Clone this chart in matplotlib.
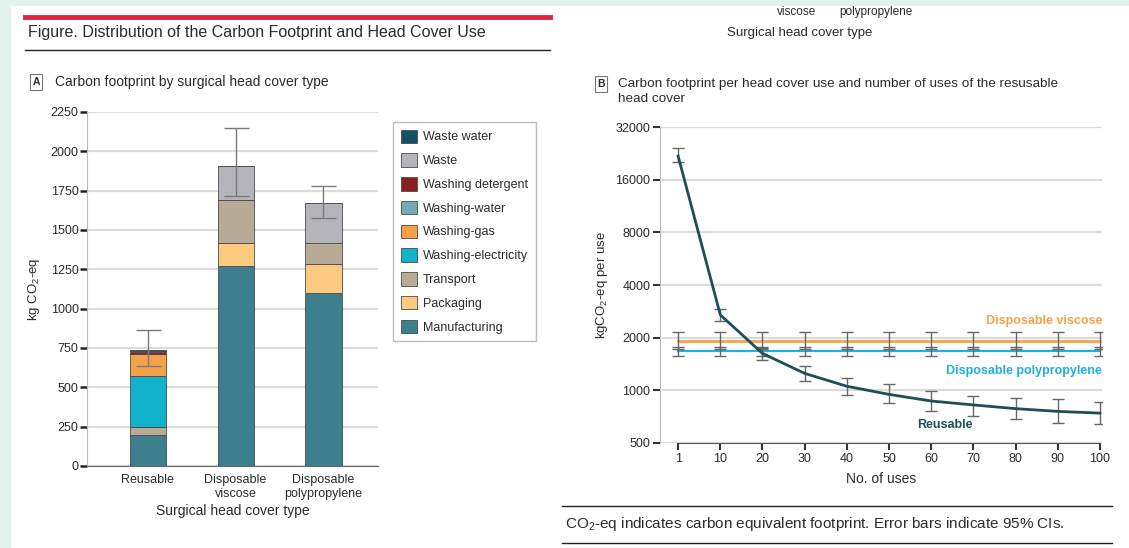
import matplotlib.pyplot as plt
import numpy as np
from matplotlib.patches import Rectangle, Patch
from matplotlib.lines import Line2D

plt.rcParams['font.family'] = ['Liberation Sans Narrow', 'Liberation Sans', 'DejaVu Sans']
plt.rcParams['mathtext.default'] = 'regular'

# ---- data, panel A (kg CO2-eq, stacked) ----
cover_types = ['Reusable', 'Disposable\nviscose', 'Disposable\npolypropylene']
components = ['Manufacturing', 'Packaging', 'Transport', 'Washing-electricity',
              'Washing-gas', 'Washing-water', 'Washing detergent', 'Waste', 'Waste water']
manufacturing = [194, 1273, 1098]
packaging = [0, 147, 186]
transport = [53, 271, 136]
washing_electricity = [327, 0, 0]
washing_gas = [138, 0, 0]
washing_water = [3, 0, 0]
washing_detergent = [8, 0, 0]
waste = [5, 216, 250]
waste_water = [8, 0, 0]
total_mean = [735, 1907, 1670]
total_lo = [636, 1718, 1579]
total_hi = [865, 2151, 1780]

# ---- data, panel B (per use, log scale) ----
uses = [1, 10, 20, 30, 40, 50, 60, 70, 80, 90, 100]
reusable = [21800, 2700, 1625, 1250, 1055, 948, 869, 825, 786, 758, 741]
reusable_lo = [20300, 2480, 1500, 1130, 940, 842, 758, 718, 683, 654, 641]
reusable_hi = [24400, 2906, 1750, 1386, 1183, 1080, 995, 933, 906, 888, 860]
viscose = [1907, 1907, 1907, 1907, 1907, 1907, 1907, 1907, 1907, 1907, 1907]
viscose_lo = [1718, 1718, 1718, 1718, 1718, 1718, 1718, 1718, 1718, 1718, 1718]
viscose_hi = [2151, 2151, 2151, 2151, 2151, 2151, 2151, 2151, 2151, 2151, 2151]
polyprop = [1670, 1670, 1670, 1670, 1670, 1670, 1670, 1670, 1670, 1670, 1670]
polyprop_lo = [1579, 1579, 1579, 1579, 1579, 1579, 1579, 1579, 1579, 1579, 1579]
polyprop_hi = [1780, 1780, 1780, 1780, 1780, 1780, 1780, 1780, 1780, 1780, 1780]
yticks_b = [500, 1000, 2000, 4000, 8000, 16000, 32000]

colors = {
    'Waste water': '#0f5364',
    'Waste': '#b4b4ba',
    'Washing detergent': '#8c1f24',
    'Washing-water': '#72a9b9',
    'Washing-gas': '#f5a14c',
    'Washing-electricity': '#12b1cc',
    'Transport': '#b8ab96',
    'Packaging': '#fdca80',
    'Manufacturing': '#3e7f8e',
}
stack = [manufacturing, packaging, transport, washing_electricity, washing_gas,
         washing_water, washing_detergent, waste, waste_water]

W, H = 1129, 548
def fx(x): return x / W
def fy(y): return 1 - y / H

fig = plt.figure(figsize=(W / 100, H / 100), dpi=100)
fig.patch.set_facecolor('#e4f2ee')
fig.patches.append(Rectangle((fx(11), 0), 1 - fx(11), fy(6), transform=fig.transFigure,
                             facecolor='white', edgecolor='none', zorder=-5))

txt = '#2b2b2b'

# header
fig.add_artist(Line2D([fx(25), fx(550)], [fy(17), fy(17)], color='#e2233d', lw=3.5))
fig.text(fx(28), fy(33), 'Figure. Distribution of the Carbon Footprint and Head Cover Use',
         fontsize=11.5, color=txt, va='center')
fig.add_artist(Line2D([fx(25), fx(550)], [fy(50), fy(50)], color='#222', lw=1))

# ---- panel A ----
fig.text(fx(36), fy(82), 'A', fontsize=7.5, fontweight='bold', color=txt, va='center', ha='center',
         bbox=dict(boxstyle='square,pad=0.25', fc='white', ec='#777', lw=0.8))
fig.text(fx(55), fy(82), 'Carbon footprint by surgical head cover type', fontsize=10,
         color=txt, va='center')

axA = fig.add_axes([fx(87), fy(466), fx(378) - fx(87), fy(112) - fy(466)])
xpos = np.arange(len(cover_types))
bottom = np.zeros(len(cover_types))
for name, vals in zip(components, stack):
    axA.bar(xpos, vals, 0.41, bottom=bottom, color=colors[name], edgecolor='#4a4a4a',
            linewidth=0.6, zorder=3)
    bottom += np.array(vals)
mean = np.array(total_mean)
axA.errorbar(xpos, mean, yerr=[mean - np.array(total_lo), np.array(total_hi) - mean],
             fmt='none', ecolor='#7a7a7a', elinewidth=1, capsize=9, capthick=1, zorder=4)
axA.set_xlim(-0.69, 2.62)
axA.set_ylim(0, 2250)
axA.set_yticks(np.arange(0, 2251, 250))
axA.set_xticks(xpos)
axA.set_xticklabels(cover_types, fontsize=9, color=txt, linespacing=1.2)
axA.tick_params(axis='x', length=0, pad=6)
axA.tick_params(axis='y', length=5, width=1.8, color='#222', labelsize=9, labelcolor=txt, pad=1)
axA.grid(axis='y', color='#dcdcdc', lw=1.6, zorder=0)
for s in ['top', 'right']:
    axA.spines[s].set_visible(False)
axA.spines['left'].set_color('#bbbbbb')
axA.spines['bottom'].set_color('#666666')
axA.set_ylabel('kg CO$_2$-eq', fontsize=9.5, color=txt, labelpad=6)
axA.set_xlabel('Surgical head cover type', fontsize=10, color=txt, labelpad=3)

handles = [Patch(facecolor=colors[n], edgecolor='#4a4a4a', linewidth=0.6) for n in components[::-1]]
fig.legend(handles, components[::-1], loc='upper left', bbox_to_anchor=(fx(393), fy(122)),
           fontsize=9, frameon=True, fancybox=False, edgecolor='#aaaaaa',
           handlelength=1.3, handleheight=1.3, labelspacing=0.78, handletextpad=0.5,
           borderpad=0.6, borderaxespad=0, labelcolor=txt)

# leftover fragment at top right
fig.text(fx(797), fy(12), 'viscose', fontsize=8.5, color=txt, ha='center', va='center')
fig.text(fx(876), fy(12), 'polypropylene', fontsize=8.5, color=txt, ha='center', va='center')
fig.text(fx(800), fy(33), 'Surgical head cover type', fontsize=9.5, color=txt, ha='center', va='center')

# ---- panel B ----
fig.text(fx(601), fy(84), 'B', fontsize=7.5, fontweight='bold', color=txt, va='center', ha='center',
         bbox=dict(boxstyle='square,pad=0.25', fc='white', ec='#777', lw=0.8))
fig.text(fx(618), fy(84), 'Carbon footprint per head cover use and number of uses of the resusable',
         fontsize=9.7, color=txt, va='center')
fig.text(fx(618), fy(99), 'head cover', fontsize=9.7, color=txt, va='center')

axB = fig.add_axes([fx(660), fy(443), fx(1102) - fx(660), fy(127) - fy(443)])
xb = np.arange(len(uses))
axB.set_yscale('log', base=2)
err_kw = dict(fmt='none', ecolor='#666666', elinewidth=1, capsize=4, capthick=1, zorder=4)
vis = np.array(viscose)
pp = np.array(polyprop)
ru = np.array(reusable)
axB.plot(xb, vis, color='#f5a14c', lw=2, zorder=3)
axB.plot(xb, pp, color='#1fb0df', lw=1.6, zorder=3)
axB.errorbar(xb, vis, yerr=[vis - np.array(viscose_lo), np.array(viscose_hi) - vis], **err_kw)
axB.errorbar(xb, pp, yerr=[pp - np.array(polyprop_lo), np.array(polyprop_hi) - pp], **err_kw)
axB.plot(xb, ru, color='#1d4f55', lw=2, zorder=5)
axB.errorbar(xb, ru, yerr=[ru - np.array(reusable_lo), np.array(reusable_hi) - ru], **err_kw)

axB.set_xlim(-0.43, 10.05)
axB.set_ylim(500, 32000)
axB.set_yticks(yticks_b)
axB.set_yticklabels([str(v) for v in yticks_b])
axB.yaxis.set_minor_locator(plt.NullLocator())
axB.set_xticks(xb)
axB.set_xticklabels([str(u) for u in uses])
axB.tick_params(axis='both', length=5, width=1.5, color='#333', labelsize=9, labelcolor=txt, pad=2)
axB.grid(axis='y', color='#dcdcdc', lw=1.6, zorder=0)
for s in ['top', 'right']:
    axB.spines[s].set_visible(False)
axB.spines['left'].set_color('#bbbbbb')
axB.spines['bottom'].set_color('#555555')
axB.spines['bottom'].set_bounds(0, 10)
axB.set_ylabel('kgCO$_2$-eq per use', fontsize=9.5, color=txt, labelpad=4)
axB.set_xlabel('No. of uses', fontsize=10, color=txt, labelpad=5)

axB.text(10.05, 2500, 'Disposable viscose', color='#f5a14c', fontsize=9, fontweight='bold',
         ha='right', va='center')
axB.text(10.05, 1292, 'Disposable polypropylene', color='#1fb0df', fontsize=9, fontweight='bold',
         ha='right', va='center')
axB.text(6.33, 632, 'Reusable', color='#1d4f55', fontsize=9, fontweight='bold',
         ha='center', va='center')

# footer
fig.add_artist(Line2D([fx(562), fx(1112)], [fy(506), fy(506)], color='#222', lw=1))
fig.text(fx(565), fy(524), 'CO$_2$-eq indicates carbon equivalent footprint. Error bars indicate 95% CIs.',
         fontsize=11, color=txt, va='center')
fig.add_artist(Line2D([fx(562), fx(1112)], [fy(543), fy(543)], color='#222', lw=1))

fig.savefig('out.png', dpi=100, facecolor=fig.get_facecolor())
